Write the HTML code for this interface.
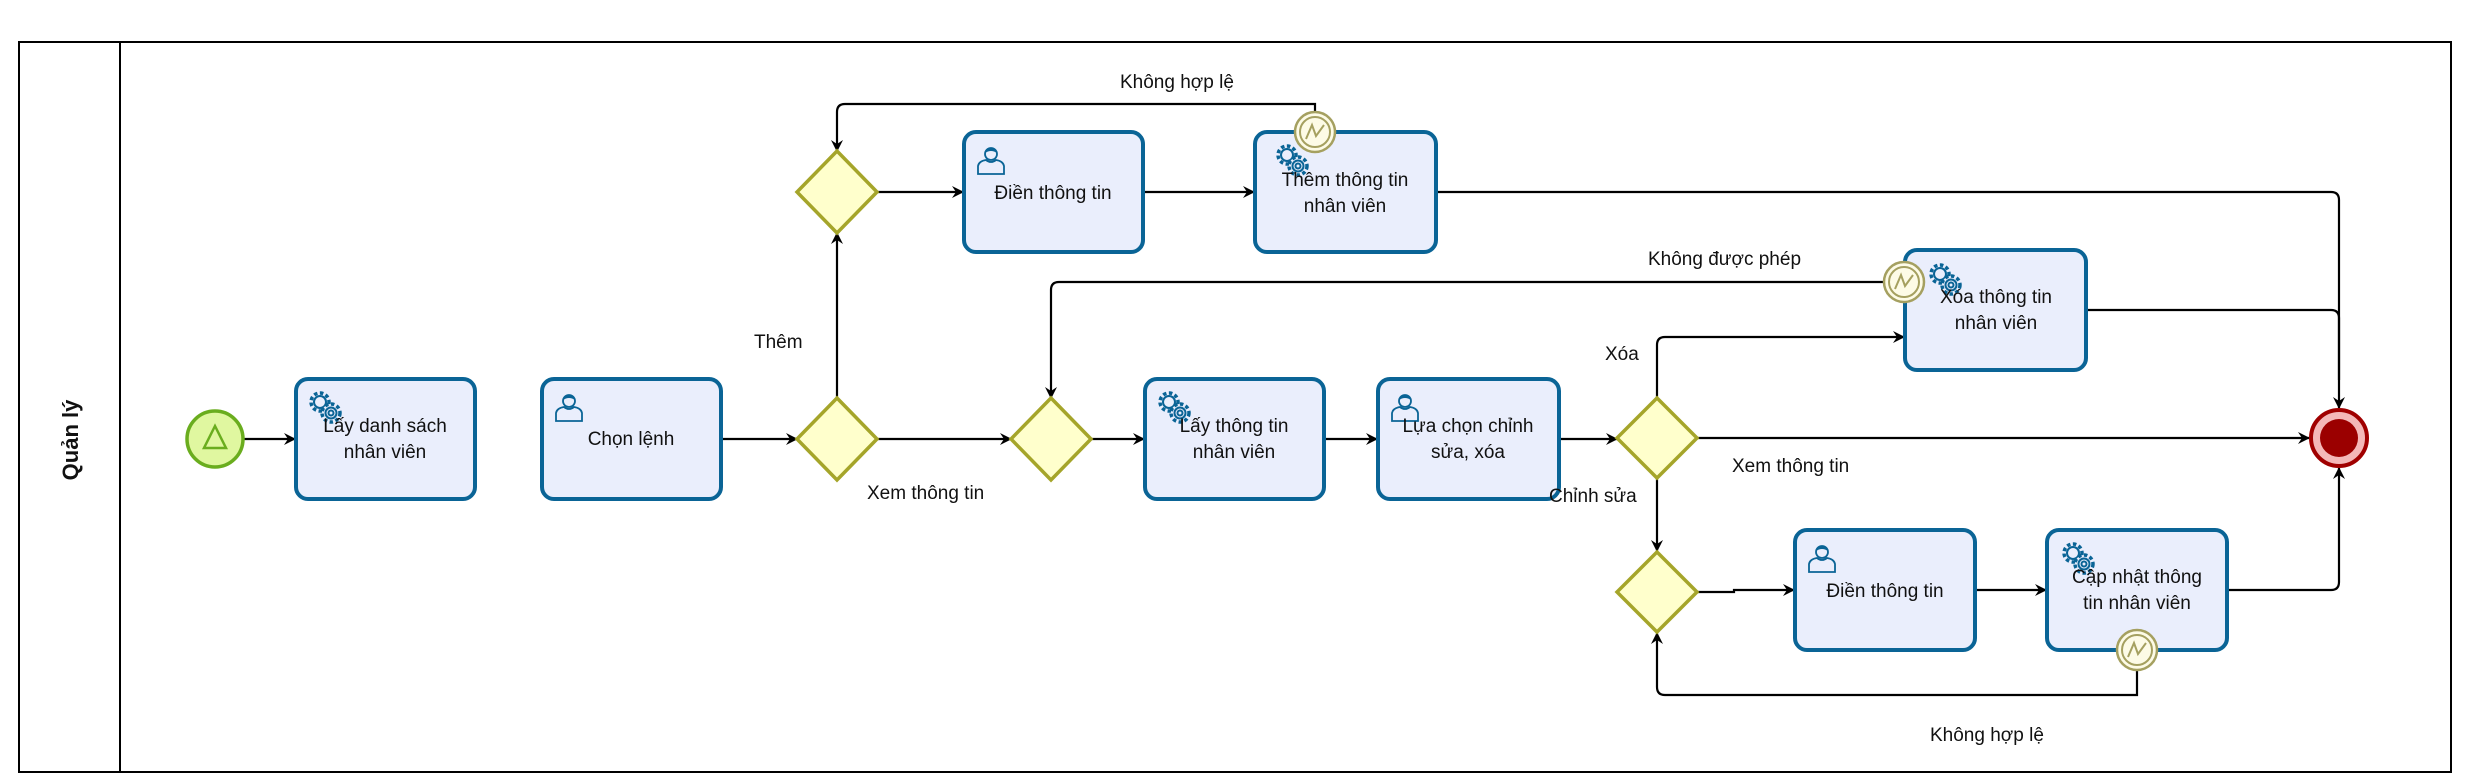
<!DOCTYPE html>
<html><head><meta charset="utf-8"><style>
html,body{margin:0;padding:0;background:#fff;}
svg{display:block;}
text{font-family:"Liberation Sans",sans-serif;font-size:19px;fill:#111;}
.t{fill:#eaeefc;stroke:#0a6496;stroke-width:4;}
.g{fill:#ffffcc;stroke:#a5a52a;stroke-width:3.5;}
.l{fill:none;stroke:#000;stroke-width:2.2;}
</style></head><body>
<svg width="2483" height="781" viewBox="0 0 2483 781" xmlns="http://www.w3.org/2000/svg">
<defs>
<marker id="a" markerWidth="12" markerHeight="12" refX="11" refY="6" orient="auto" markerUnits="userSpaceOnUse"><path d="M0,0 L12,6 L0,12 L4,6 Z" fill="#000"/></marker>
<g id="gear"><circle cx="0" cy="0" r="9" fill="none" stroke="#0a6496" stroke-width="3.5" stroke-dasharray="3.5 2.5"/><circle cx="0" cy="0" r="6" fill="none" stroke="#0a6496" stroke-width="2"/><circle cx="11" cy="11" r="9" fill="#eaeefc" stroke="#0a6496" stroke-width="3.5" stroke-dasharray="3.5 2.5"/><circle cx="11" cy="11" r="5.5" fill="#eaeefc" stroke="#0a6496" stroke-width="2"/><circle cx="11" cy="11" r="2.5" fill="none" stroke="#0a6496" stroke-width="2"/></g>
<g id="user"><circle cx="0" cy="-6" r="6" fill="#eaeefc" stroke="#0a6496" stroke-width="1.8"/><path d="M-6,-9 Q0,-15 6,-9 L6,-7 Q0,-11 -6,-7Z" fill="#0a6496"/><path d="M-13,14 L-13,6 Q-12,1 -5,0 Q0,4 5,0 Q12,1 13,6 L13,14 Z" fill="#eaeefc" stroke="#0a6496" stroke-width="1.8"/></g>
<g id="bnd"><circle r="20" fill="#fdfbe6" stroke="#a5a060" stroke-width="2.5"/><circle r="15" fill="none" stroke="#a5a060" stroke-width="2"/><path d="M-9,7 L-3,-7 L1,4 L9,-7" fill="none" stroke="#a5a060" stroke-width="2"/></g>
</defs>
<rect x="19" y="42" width="2432" height="730" fill="none" stroke="#000" stroke-width="2"/>
<line x1="120" y1="42" x2="120" y2="772" stroke="#000" stroke-width="2"/>
<text transform="translate(78,440) rotate(-90)" text-anchor="middle" style="font-weight:bold;font-size:22px">Quản lý</text>

<!-- connectors -->
<line class="l" x1="244" y1="439" x2="295" y2="439" marker-end="url(#a)"/>
<line class="l" x1="721" y1="439" x2="797" y2="439" marker-end="url(#a)"/>
<line class="l" x1="877" y1="439" x2="1011" y2="439" marker-end="url(#a)"/>
<line class="l" x1="1091" y1="439" x2="1144" y2="439" marker-end="url(#a)"/>
<line class="l" x1="1324" y1="439" x2="1377" y2="439" marker-end="url(#a)"/>
<line class="l" x1="1559" y1="439" x2="1617" y2="439" marker-end="url(#a)"/>
<line class="l" x1="1697" y1="438" x2="2309" y2="438" marker-end="url(#a)"/>
<line class="l" x1="837" y1="398" x2="837" y2="233" marker-end="url(#a)"/>
<line class="l" x1="877" y1="192" x2="963" y2="192" marker-end="url(#a)"/>
<line class="l" x1="1143" y1="192" x2="1254" y2="192" marker-end="url(#a)"/>
<path class="l" d="M1315,112 L1315,104 L845,104 Q837,104 837,112 L837,151" marker-end="url(#a)"/>
<path class="l" d="M1436,192 L2331,192 Q2339,192 2339,200 L2339,408" marker-end="url(#a)"/>
<path class="l" d="M1884,282 L1059,282 Q1051,282 1051,290 L1051,398" marker-end="url(#a)"/>
<path class="l" d="M2086,310 L2331,310 Q2339,310 2339,318 L2339,380"/>
<path class="l" d="M1657,398 L1657,345 Q1657,337 1665,337 L1904,337" marker-end="url(#a)"/>
<line class="l" x1="1657" y1="478" x2="1657" y2="551" marker-end="url(#a)"/>
<path class="l" d="M1697,592 L1734,592 L1734,590 L1794,590" marker-end="url(#a)"/>
<line class="l" x1="1975" y1="590" x2="2046" y2="590" marker-end="url(#a)"/>
<path class="l" d="M2227,590 L2331,590 Q2339,590 2339,582 L2339,468" marker-end="url(#a)"/>
<path class="l" d="M2137,670 L2137,695 L1665,695 Q1657,695 1657,687 L1657,633" marker-end="url(#a)"/>

<!-- start/end -->
<circle cx="215" cy="439" r="28" fill="#e0f7a0" stroke="#6aad1e" stroke-width="3.5"/>
<path d="M215,426 L226,448 L204,448 Z" fill="none" stroke="#6aad1e" stroke-width="2.5"/>
<circle cx="2339" cy="438" r="28" fill="#f4b8b8" stroke="#a00000" stroke-width="4"/>
<circle cx="2339" cy="438" r="19" fill="#9b0000"/>

<!-- tasks -->
<rect class="t" x="296" y="379" width="179" height="120" rx="12"/>
<use href="#gear" x="320" y="402"/>
<text x="385" y="432" text-anchor="middle">Lấy danh sách</text><text x="385" y="458" text-anchor="middle">nhân viên</text>

<rect class="t" x="542" y="379" width="179" height="120" rx="12"/>
<use href="#user" x="569" y="407"/>
<text x="631" y="445" text-anchor="middle">Chọn lệnh</text>

<rect class="t" x="964" y="132" width="179" height="120" rx="12"/>
<use href="#user" x="991" y="160"/>
<text x="1053" y="199" text-anchor="middle">Điền thông tin</text>

<rect class="t" x="1255" y="132" width="181" height="120" rx="12"/>
<use href="#gear" x="1287" y="155"/>
<text x="1345" y="186" text-anchor="middle">Thêm thông tin</text><text x="1345" y="212" text-anchor="middle">nhân viên</text>

<rect class="t" x="1145" y="379" width="179" height="120" rx="12"/>
<use href="#gear" x="1169" y="402"/>
<text x="1234" y="432" text-anchor="middle">Lấy thông tin</text><text x="1234" y="458" text-anchor="middle">nhân viên</text>

<rect class="t" x="1378" y="379" width="181" height="120" rx="12"/>
<use href="#user" x="1405" y="407"/>
<text x="1468" y="432" text-anchor="middle">Lựa chọn chỉnh</text><text x="1468" y="458" text-anchor="middle">sửa, xóa</text>

<rect class="t" x="1905" y="250" width="181" height="120" rx="12"/>
<use href="#gear" x="1940" y="274"/>
<text x="1996" y="303" text-anchor="middle">Xóa thông tin</text><text x="1996" y="329" text-anchor="middle">nhân viên</text>

<rect class="t" x="1795" y="530" width="180" height="120" rx="12"/>
<use href="#user" x="1822" y="558"/>
<text x="1885" y="597" text-anchor="middle">Điền thông tin</text>

<rect class="t" x="2047" y="530" width="180" height="120" rx="12"/>
<use href="#gear" x="2073" y="553"/>
<text x="2137" y="583" text-anchor="middle">Cập nhật thông</text><text x="2137" y="609" text-anchor="middle">tin nhân viên</text>

<!-- boundary events -->
<use href="#bnd" x="1315" y="132"/>
<use href="#bnd" x="1904" y="282"/>
<use href="#bnd" x="2137" y="650"/>

<!-- gateways -->
<path class="g" d="M837,398 L877,439 L837,480 L797,439 Z"/>
<path class="g" d="M837,151 L877,192 L837,233 L797,192 Z"/>
<path class="g" d="M1051,398 L1091,439 L1051,480 L1011,439 Z"/>
<path class="g" d="M1657,398 L1697,438 L1657,478 L1617,438 Z"/>
<path class="g" d="M1657,552 L1697,592 L1657,632 L1617,592 Z"/>

<!-- labels -->
<text x="1120" y="88">Không hợp lệ</text>
<text x="754" y="348">Thêm</text>
<text x="867" y="499">Xem thông tin</text>
<text x="1648" y="265">Không được phép</text>
<text x="1605" y="360">Xóa</text>
<text x="1732" y="472">Xem thông tin</text>
<text x="1549" y="502">Chỉnh sửa</text>
<text x="1930" y="741">Không hợp lệ</text>
</svg>
</body></html>
